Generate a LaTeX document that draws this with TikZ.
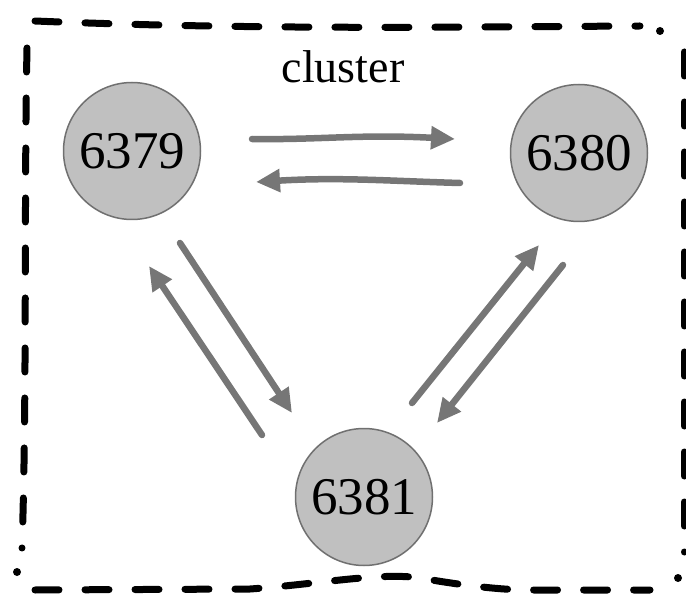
\documentclass[tikz,border=0pt]{standalone}
\usepackage{fontspec}
\setmainfont{Liberation Serif}
\usetikzlibrary{arrows.meta}
\definecolor{nodefill}{HTML}{C0C0C0}
\definecolor{nodeline}{HTML}{707070}
\definecolor{arrowgray}{HTML}{767676}
\tikzset{
  server/.style={circle, fill=nodefill, draw=nodeline, line width=1.5pt, minimum size=137pt, inner sep=0pt, font=\fontsize{53}{53}\selectfont},
  link/.style={draw=arrowgray, line width=6.5pt, line cap=round, -{Triangle[length=24pt,width=22pt]}},
  border/.style={draw=black, line width=7pt, line cap=round, dash pattern=on 24pt off 26pt},
  borderdot/.style={fill=black}
}
\begin{document}
\begin{tikzpicture}[x=1pt,y=-1pt]
\useasboundingbox (0,0) rectangle (686,596);
% border
\draw[border] (35,21) .. controls (250,30) and (450,27) .. (640,26);
\fill[borderdot] (660,31) circle (4pt);
\draw[border] (27,48) .. controls (24,200) and (27,400) .. (22,548);
\fill[borderdot] (17,572) circle (4pt);
\draw[border] (684,52) -- (684,552);
\fill[borderdot] (678,578) circle (4pt);
\draw[border] (35,590) -- (250,589) .. controls (320,584) and (380,572) .. (420,578) .. controls (460,585) and (500,590) .. (530,590) -- (650,590);
% label
\node (title) at (343,67) {\fontsize{46}{46}\selectfont cluster};
% nodes
\node[server] (n6379) at (132,151) {6379};
\node[server] (n6380) at (579,153) {6380};
\node[server] (n6381) at (364,497) {6381};
% arrow endpoints
\coordinate (a1) at (252,139);
\coordinate (a2) at (455,139);
\coordinate (b1) at (460,183);
\coordinate (b2) at (256,182);
\coordinate (c1) at (180,243);
\coordinate (c2) at (292,413);
\coordinate (d1) at (262,435);
\coordinate (d2) at (149,266);
\coordinate (e1) at (412,403);
\coordinate (e2) at (539,245);
\coordinate (f1) at (563,265);
\coordinate (f2) at (437,423);
\draw[link] (a1) .. controls (320,140) and (360,134) .. (a2);
\draw[link] (b1) .. controls (390,181) and (340,177) .. (b2);
\draw[link] (c1) -- (c2);
\draw[link] (d1) -- (d2);
\draw[link] (e1) -- (e2);
\draw[link] (f1) -- (f2);
\end{tikzpicture}
\end{document}
